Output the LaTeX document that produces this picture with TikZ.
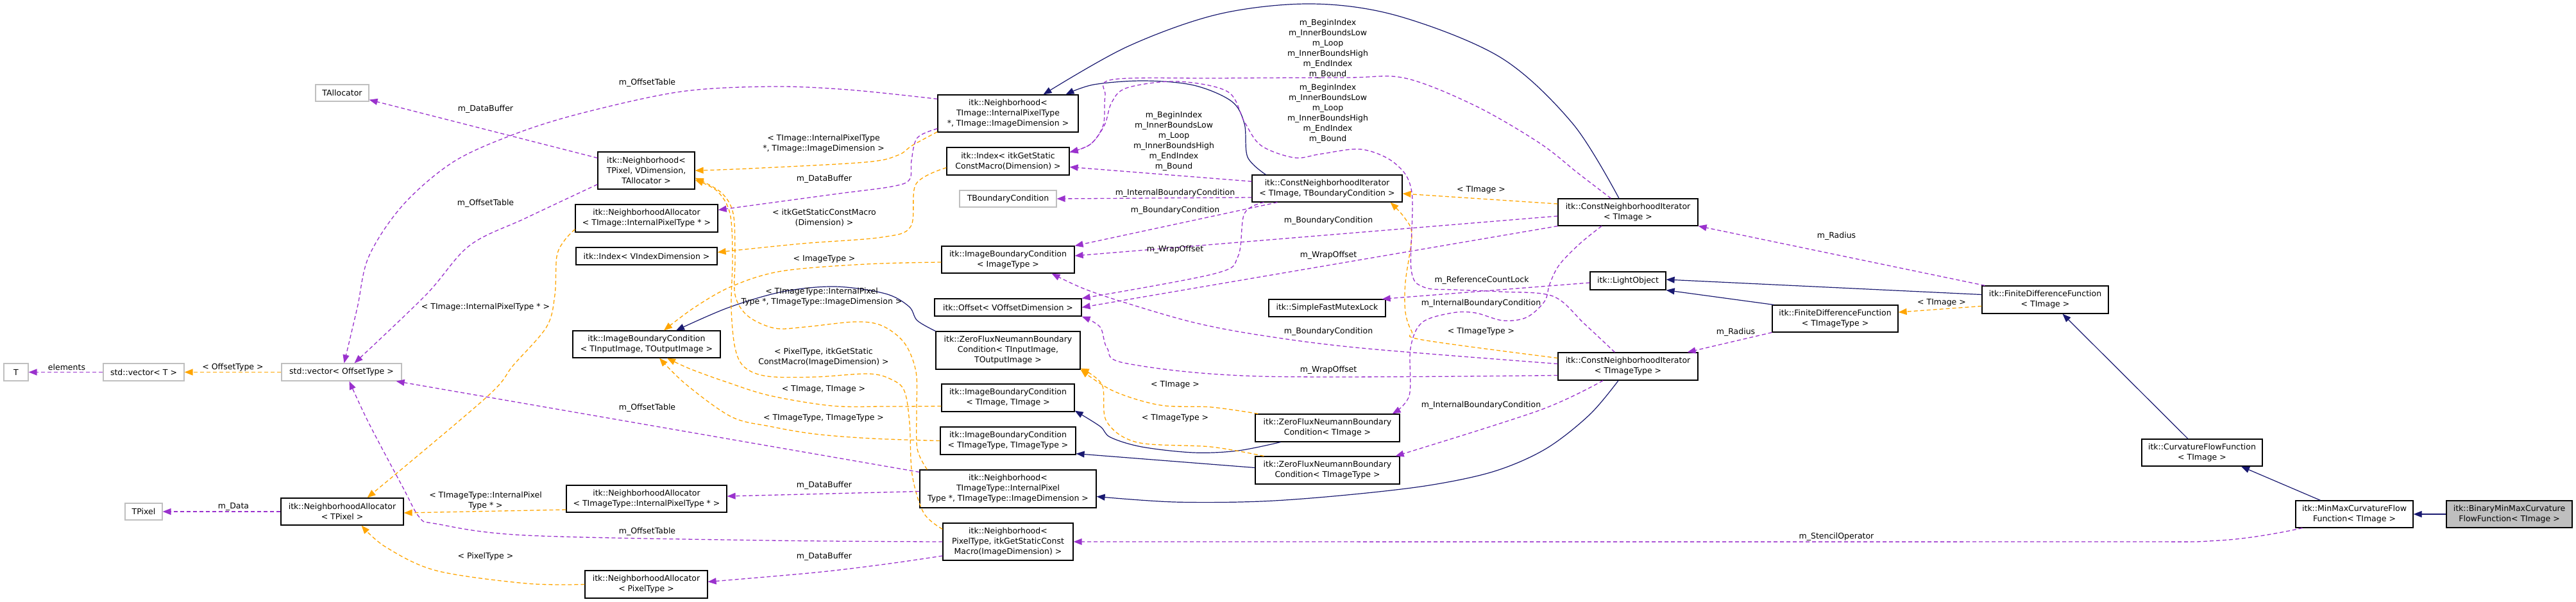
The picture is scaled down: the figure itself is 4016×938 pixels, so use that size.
\documentclass[tikz,border=0pt]{standalone}
\usepackage{fontspec}
\newfontfamily\dvsans{DejaVu Sans}
\usetikzlibrary{arrows.meta,calc}
\definecolor{usec}{HTML}{9A32CD}
\definecolor{tplc}{HTML}{FFA500}
\definecolor{inhc}{HTML}{191970}
\definecolor{ubox}{HTML}{BFBFBF}
\newcommand\dfnt{\dvsans\fontsize{12.5}{16}\selectfont}
\begin{document}
\begin{tikzpicture}[x=1pt,y=-1pt,
  box/.style={draw=black, line width=1.2pt, fill=white, font=\dfnt, align=center, inner sep=0pt},
  gbox/.style={box, draw=ubox},
  lab/.style={font=\dfnt, align=center, inner sep=0pt},
  tipx/.style={-{Triangle[length=13pt,width=10pt]}},
  use/.style={draw=usec, line width=1.3pt, dash pattern=on 6pt off 4pt, tipx},
  tpl/.style={draw=tplc, line width=1.3pt, dash pattern=on 6pt off 4pt, tipx},
  inh/.style={draw=inhc, line width=1.2pt, tipx},
  every plot/.style={smooth, tension=0.55}]
\useasboundingbox (0,0) rectangle (4016,938);

% ---------------- nodes
\node[gbox, minimum width=38pt, minimum height=27pt] (T) at (25,580.5) {T};
\node[gbox, minimum width=126pt, minimum height=27pt] (vecT) at (224,580.5) {std::vector< T >};
\node[gbox, minimum width=187pt, minimum height=27pt] (vecO) at (532.5,580.5) {std::vector< OffsetType >};
\node[gbox, minimum width=58pt, minimum height=26pt] (TPixel) at (224,798) {TPixel};
\node[box, minimum width=191pt, minimum height=42pt] (naT) at (533.5,798) {itk::NeighborhoodAllocator\\< TPixel >};
\node[gbox, minimum width=83pt, minimum height=26pt] (TAlloc) at (533.5,145) {TAllocator};
\node[box, minimum width=151pt, minimum height=58pt] (nbP) at (1007.5,266) {itk::Neighborhood<\\ TPixel, VDimension,\\ TAllocator >};
\node[box, minimum width=222pt, minimum height=43pt] (naI) at (1008,340.5) {itk::NeighborhoodAllocator\\< TImage::InternalPixelType * >};
\node[box, minimum width=220pt, minimum height=27pt] (idxV) at (1008,399.5) {itk::Index< VIndexDimension >};
\node[box, minimum width=230pt, minimum height=42pt] (ibcIO) at (1008,537) {itk::ImageBoundaryCondition\\< TInputImage, TOutputImage >};
\node[box, minimum width=250pt, minimum height=42pt] (naTT) at (1008,778) {itk::NeighborhoodAllocator\\< TImageType::InternalPixelType * >};
\node[box, minimum width=191pt, minimum height=43pt] (naPT) at (1007.5,911.5) {itk::NeighborhoodAllocator\\< PixelType >};
\node[box, minimum width=219pt, minimum height=58pt] (nbI) at (1571.5,177) {itk::Neighborhood<\\ TImage::InternalPixelType\\ *, TImage::ImageDimension >};
\node[box, minimum width=191pt, minimum height=43pt] (idxG) at (1571.5,251.5) {itk::Index< itkGetStatic\\ConstMacro(Dimension) >};
\node[gbox, minimum width=151pt, minimum height=26pt] (TBC) at (1571.5,310) {TBoundaryCondition};
\node[box, minimum width=207pt, minimum height=42pt] (ibcImg) at (1571.5,405) {itk::ImageBoundaryCondition\\< ImageType >};
\node[box, minimum width=229pt, minimum height=27pt] (off) at (1571.5,479.5) {itk::Offset< VOffsetDimension >};
\node[box, minimum width=225pt, minimum height=59pt] (zfIO) at (1571.5,546.5) {itk::ZeroFluxNeumannBoundary\\Condition< TInputImage,\\ TOutputImage >};
\node[box, minimum width=207pt, minimum height=43pt] (ibcII) at (1571.5,620.5) {itk::ImageBoundaryCondition\\< TImage, TImage >};
\node[box, minimum width=211pt, minimum height=43pt] (ibcTT) at (1571.5,687.5) {itk::ImageBoundaryCondition\\< TImageType, TImageType >};
\node[box, minimum width=275pt, minimum height=59pt] (nbT) at (1571.5,762.5) {itk::Neighborhood<\\ TImageType::InternalPixel\\Type *, TImageType::ImageDimension >};
\node[box, minimum width=203pt, minimum height=58pt] (nbPT) at (1571.5,845) {itk::Neighborhood<\\ PixelType, itkGetStaticConst\\Macro(ImageDimension) >};
\node[box, minimum width=234pt, minimum height=42pt] (cnitB) at (2069,294) {itk::ConstNeighborhoodIterator\\< TImage, TBoundaryCondition >};
\node[box, minimum width=182pt, minimum height=27pt] (sfml) at (2069,480.5) {itk::SimpleFastMutexLock};
\node[box, minimum width=225pt, minimum height=43pt] (zfI) at (2069.5,667.5) {itk::ZeroFluxNeumannBoundary\\Condition< TImage >};
\node[box, minimum width=225pt, minimum height=43pt] (zfT) at (2069.5,733.5) {itk::ZeroFluxNeumannBoundary\\Condition< TImageType >};
\node[box, minimum width=218pt, minimum height=42pt] (cnitI) at (2538,331) {itk::ConstNeighborhoodIterator\\< TImage >};
\node[box, minimum width=118pt, minimum height=28pt] (lo) at (2538,438) {itk::LightObject};
\node[box, minimum width=218pt, minimum height=43pt] (cnitT) at (2538,571.5) {itk::ConstNeighborhoodIterator\\< TImageType >};
\node[box, minimum width=196pt, minimum height=42pt] (fdfT) at (2861,497) {itk::FiniteDifferenceFunction\\< TImageType >};
\node[box, minimum width=197pt, minimum height=43pt] (fdfI) at (3188.5,467.5) {itk::FiniteDifferenceFunction\\< TImage >};
\node[box, minimum width=188pt, minimum height=42pt] (cff) at (3433,706) {itk::CurvatureFlowFunction\\< TImage >};
\node[box, minimum width=183pt, minimum height=42pt] (mm) at (3670.5,802) {itk::MinMaxCurvatureFlow\\Function< TImage >};
\node[box, fill=ubox, minimum width=196pt, minimum height=42pt] (bin) at (3912,802) {itk::BinaryMinMaxCurvature\\FlowFunction< TImage >};

% ---------------- inheritance
\draw[inh] (bin.west) -- (mm.east);
\draw[inh] ($(mm.north)+(-53,0)$) -- ($(cff.south)+(61,0)$);
\draw[inh] ($(cff.north)+(-22,0)$) -- ($(fdfI.south)+(27,0)$);
\draw[inh] ($(fdfI.west)+(0,-8)$) -- ($(lo.east)+(0,-2)$);
\draw[inh] ($(fdfT.north west)+(3,0)$) -- (lo.south east);
\draw[inh] plot coordinates {($(cnitI.north)+(-14,0)$) (2452,193) (2340,90) (2180,25) (2045,6) (1900,22) (1757,73) ($(nbI.north)+(55,0)$)};
\draw[inh] plot coordinates {($(cnitB.north west)+(22,0)$) (1945,245) (1940,193) (1920,158) (1861,133) (1783,126) (1705,132) ($(nbI.north)+(90,0)$)};
\draw[inh] plot coordinates {($(cnitT.south)+(-15,0)$) (2478,647) (2410,700) (2330,735) (2228,757) (2100,772) (1966,782) (1830,783) ($(nbT.east)+(0,12)$)};
\draw[inh] plot coordinates {($(zfI.south west)+(40,0)$) (1930,703) (1861,706) (1780,697) (1731,682) (1715,665) ($(ibcII.south east)+(0,-2)$)};
\draw[inh] ($(zfT.west)+(0,-4)$) -- ($(ibcTT.south east)+(0,-2)$);
\draw[inh] plot coordinates {(zfIO.north west) (1430,500) (1417,478) (1380,458) (1302,447) (1220,455) (1135,480) ($(ibcIO.north)+(46,0)$)};

% ---------------- template instances
\draw[tpl] (vecO.west) -- (vecT.east);
\draw[tpl] plot coordinates {($(nbI.south west)+(0,-1)$) (1422,227) (1400,242) (1349,253) (1166,263) (nbP.east)};
\draw[tpl] plot coordinates {($(nbT.north west)+(12,0)$) (1430,700) (1429,640) (1428,580) (1410,535) (1375,508) (1333,502) (1255,510) (1208,512) (1166,493) (1146,460) (1146,400) (1143,333) (1124,300) ($(nbP.south east)+(0,-18)$)};
\draw[tpl] plot coordinates {($(nbPT.north west)+(0,10)$) (1440,800) (1422,740) (1418,660) (1410,610) (1390,592) (1354,583) (1271,588) (1197,587) (1161,573) (1146,543) (1140,480) (1142,400) (1138,333) (1118,298) ($(nbP.south east)+(0,-15)$)};
\draw[tpl] plot coordinates {($(naI.south west)+(0,-5)$) (880,375) (868,400) (865,460) (852,510) (800,570) (758,620) ($(naT.north)+(39,0)$)};
\draw[tpl] ($(naTT.west)+(0,17)$) -- ($(naT.east)+(0,2)$);
\draw[tpl] plot coordinates {(naPT.west) (820,910) (680,890) (601,853) ($(naT.south)+(30,0)$)};
\draw[tpl] plot coordinates {($(idxG.west)+(0,10)$) (1428,287) (1420,353) (1375,370) (1250,380) ($(idxV.east)+(0,-6)$)};
\draw[tpl] plot coordinates {($(ibcImg.west)+(0,4)$) (1350,412) (1218,423) (1140,447) (1082,480) ($(ibcIO.north)+(27,0)$)};
\draw[tpl] plot coordinates {($(ibcII.west)+(0,13)$) (1380,634) (1297,633) (1200,617) (1130,595) (1075,575) ($(ibcIO.south)+(32,0)$)};
\draw[tpl] plot coordinates {(ibcTT.west) (1360,684) (1271,677) (1200,665) (1140,650) (1070,600) ($(ibcIO.south)+(20,0)$)};
\draw[tpl] plot coordinates {($(zfI.north west)+(5,0)$) (1888,635) (1809,632) (1736,610) (zfIO.south east)};
\draw[tpl] plot coordinates {($(zfT.north west)+(14,0)$) (1888,697) (1773,690) (1725,657) (1718,600) ($(zfIO.south east)+(0,-2)$)};
\draw[tpl] ($(cnitI.west)+(0,-13)$) -- ($(cnitB.east)+(0,8)$);
\draw[tpl] plot coordinates {($(cnitT.west)+(0,-13)$) (2217,530) (2201,517) (2191,487) (2191,440) (2201,367) (2190,340) ($(cnitB.south east)+(-19,0)$)};
\draw[tpl] ($(fdfI.west)+(0,10)$) -- ($(fdfT.east)+(0,-10)$);

% ---------------- usage
\draw[use] (vecT.west) -- (T.east);
\draw[use] (naT.west) -- (TPixel.east);
\draw[use] ($(nbP.north west)+(0,10)$) -- ($(TAlloc.south east)+(0,-3)$);
\draw[use] plot coordinates {($(nbI.north west)+(0,7)$) (1323,140) (1203,135) (1061,143) (905,177) (800,210) (706,253) (628,320) (575,400) (557,480) ($(vecO.north)+(4,0)$)};
\draw[use] plot coordinates {($(nbP.south west)+(0,-8)$) (820,340) (732,383) (664,460) ($(vecO.north)+(20,0)$)};
\draw[use] ($(nbT.north west)+(0,4)$) -- ($(vecO.south east)+(-9,0)$);
\draw[use] plot coordinates {(nbPT.west) (1200,843) (820,835) (680,817) (654,807) (628,760) (575,660) ($(vecO.south)+(12,0)$)};
\draw[use] plot coordinates {($(nbI.south west)+(0,-6)$) (1430,215) (1421,250) (1418,280) (1390,291) (1300,303) ($(naI.east)+(0,-13)$)};
\draw[use] ($(nbT.west)+(0,4)$) -- ($(naTT.east)+(0,-4)$);
\draw[use] plot coordinates {($(nbPT.west)+(0,22)$) (1380,880) (1271,893) ($(naPT.east)+(0,-4)$)};
\draw[use] plot coordinates {($(mm.south west)+(11,0)$) (3460,843) (3200,845) (nbPT.east)};
\draw[use] ($(cnitB.west)+(0,-11)$) -- ($(idxG.east)+(0,9)$);
\draw[use] plot coordinates {($(cnitI.north west)+(83,0)$) (2460,270) (2400,223) (2300,165) (2191,122) (2100,121) (1900,122) (1735,124) (1723,150) (1720,195) (1700,225) ($(idxG.north east)+(0,8)$)};
\draw[use] plot coordinates {($(cnitT.north west)+(89,0)$) (2470,505) (2421,462) (2340,455) (2270,452) (2220,448) (2200,420) (2201,300) (2175,255) (2123,233) (2060,240) (2018,246) (1966,227) (1940,190) (1914,143) (1835,127) (1757,137) (1733,160) (1722,195) (1700,225) ($(idxG.north east)+(0,8)$)};
\draw[use] ($(cnitB.west)+(0,14)$) -- (TBC.east);
\draw[use] ($(cnitB.south west)+(40,0)$) -- (ibcImg.north east);
\draw[use] ($(cnitI.west)+(0,6)$) -- ($(ibcImg.east)+(0,-6)$);
\draw[use] plot coordinates {($(cnitT.west)+(0,-4)$) (2123,543) (1966,523) (1861,503) (1757,473) (1689,450) ($(ibcImg.south)+(68,0)$)};
\draw[use] plot coordinates {($(cnitB.south west)+(19,0)$) (1940,333) (1930,400) (1893,427) (off.north east)};
\draw[use] (cnitI.south west) -- (off.east);
\draw[use] plot coordinates {($(cnitT.west)+(0,14)$) (1966,587) (1757,567) (1726,543) (1715,510) (off.south east)};
\draw[use] ($(lo.west)+(0,3)$) -- ($(sfml.north east)+(-6,0)$);
\draw[use] plot coordinates {($(cnitI.south)+(-41,0)$) (2463,380) (2431,413) (2416,443) (2408,470) (2380,495) (2343,500) (2300,488) (2264,488) (2217,503) (2199,543) (2197,617) ($(zfI.north east)+(-12,0)$)};
\draw[use] plot coordinates {($(cnitT.south)+(-39,0)$) (2400,640) ($(zfT.north east)+(-7,0)$)};
\draw[use] ($(fdfI.north west)+(5,0)$) -- (cnitI.south east);
\draw[use] (fdfT.south west) -- ($(cnitT.north east)+(-17,0)$);

% ---------------- labels
\node[lab] (l1) at (104,573) {elements};
\node[lab] (l2) at (363,573) {< OffsetType >};
\node[lab] (l3) at (364,790) {m\_Data};
\node[lab] (l4) at (757,170) {m\_DataBuffer};
\node[lab] (l5) at (757,317) {m\_OffsetTable};
\node[lab] (l6) at (757,479) {< TImage::InternalPixelType * >};
\node[lab] (l7) at (757,781) {< TImageType::InternalPixel\\Type * >};
\node[lab] (l8) at (757,868) {< PixelType >};
\node[lab] (l9) at (1009,129) {m\_OffsetTable};
\node[lab] (l10) at (1284,224) {< TImage::InternalPixelType\\*, TImage::ImageDimension >};
\node[lab] (l11) at (1285,279) {m\_DataBuffer};
\node[lab] (l12) at (1285,340) {< itkGetStaticConstMacro\\(Dimension) >};
\node[lab] (l13) at (1285,404) {< ImageType >};
\node[lab] (l14) at (1281,463) {< TImageType::InternalPixel\\Type *, TImageType::ImageDimension >};
\node[lab] (l15) at (1284,557) {< PixelType, itkGetStatic\\ConstMacro(ImageDimension) >};
\node[lab] (l16) at (1284,607) {< TImage, TImage >};
\node[lab] (l17) at (1009,636) {m\_OffsetTable};
\node[lab] (l18) at (1284,652) {< TImageType, TImageType >};
\node[lab] (l19) at (1285,757) {m\_DataBuffer};
\node[lab] (l20) at (1009,829) {m\_OffsetTable};
\node[lab] (l21) at (1285,868) {m\_DataBuffer};
\node[lab] (l22) at (2070,76) {m\_BeginIndex\\m\_InnerBoundsLow\\m\_Loop\\m\_InnerBoundsHigh\\m\_EndIndex\\m\_Bound};
\node[lab] (l23) at (2070,177) {m\_BeginIndex\\m\_InnerBoundsLow\\m\_Loop\\m\_InnerBoundsHigh\\m\_EndIndex\\m\_Bound};
\node[lab] (l24) at (1830,220) {m\_BeginIndex\\m\_InnerBoundsLow\\m\_Loop\\m\_InnerBoundsHigh\\m\_EndIndex\\m\_Bound};
\node[lab] (l25) at (1832,301) {m\_InternalBoundaryCondition};
\node[lab] (l26) at (1832,328) {m\_BoundaryCondition};
\node[lab] (l27) at (2309,296) {< TImage >};
\node[lab] (l28) at (2071,344) {m\_BoundaryCondition};
\node[lab] (l29) at (1832,389) {m\_WrapOffset};
\node[lab] (l30) at (2071,398) {m\_WrapOffset};
\node[lab] (l31) at (2310,437) {m\_ReferenceCountLock};
\node[lab] (l32) at (2309,473) {m\_InternalBoundaryCondition};
\node[lab] (l33) at (2071,517) {m\_BoundaryCondition};
\node[lab] (l34) at (2309,517) {< TImageType >};
\node[lab] (l35) at (2071,577) {m\_WrapOffset};
\node[lab] (l36) at (1832,600) {< TImage >};
\node[lab] (l37) at (2309,632) {m\_InternalBoundaryCondition};
\node[lab] (l38) at (1832,652) {< TImageType >};
\node[lab] (l39) at (2863,368) {m\_Radius};
\node[lab] (l40) at (3027,472) {< TImage >};
\node[lab] (l41) at (2706,518) {m\_Radius};
\node[lab] (l42) at (2863,837) {m\_StencilOperator};
\end{tikzpicture}
\end{document}
